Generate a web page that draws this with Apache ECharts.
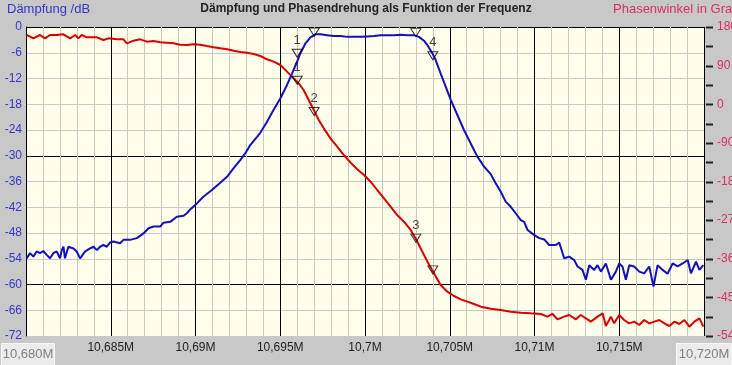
<!DOCTYPE html>
<html>
<head>
<meta charset="utf-8">
<script src="https://cdn.jsdelivr.net/npm/echarts@6/dist/echarts.min.js"></script>
<style>
html,body{margin:0;padding:0;background:#c8c8c8;}
#chart{width:732px;height:365px;}
</style>
</head>
<body>
<div id="chart"></div>
<script>
// Frequency offsets in kHz relative to 10,680 MHz
var xTickValues = [5, 10, 15, 20, 25, 30, 35];
var xTickLabels = ['10,685M', '10,69M', '10,695M', '10,7M', '10,705M', '10,71M', '10,715M'];
var xEndLabels = ['10,680M', '10,720M'];
// Phase axis ticks (every 45°) and labelled ticks (every 90°)
var phaseTicks = [180, 135, 90, 45, 0, -45, -90, -135, -180, -225, -270, -315, -360, -405, -450, -495, -540];
var phaseLabels = [180, 90, 0, -90, -180, -270, -360, -450, -540];

// Dämpfung (dB) trace
var blueFreq = [0.04,0.24,0.43,0.63,0.83,1.02,1.22,1.42,1.61,1.81,2.01,2.11,2.21,2.30,2.50,2.80,2.99,3.19,3.49,3.78,3.98,4.18,4.37,4.57,4.77,4.96,5.16,5.55,5.75,6.14,6.54,6.93,7.23,7.52,7.92,8.11,8.51,8.90,9.30,9.49,9.69,10.08,10.48,10.97,11.46,11.86,12.25,12.64,12.94,13.23,13.63,13.83,14.22,14.61,15.01,15.40,15.70,15.99,16.19,16.49,16.78,17.08,17.37,17.77,18.16,18.56,18.95,19.34,19.74,20.13,20.53,20.92,21.31,21.71,22.10,22.49,22.89,23.18,23.48,23.68,23.97,24.17,24.46,24.76,25.06,25.45,25.84,26.23,26.63,27.02,27.42,27.71,28.01,28.30,28.60,28.89,29.19,29.39,29.59,29.99,30.28,30.58,30.86,31.26,31.46,31.75,32.05,32.34,32.54,32.83,33.03,33.23,33.52,33.72,33.92,34.21,34.51,34.80,35.00,35.19,35.39,35.59,35.88,36.18,36.47,36.77,37.02,37.26,37.56,37.85,38.15,38.44,38.74,39.04,39.23,39.53,39.73,39.96];
var blueDb = [-53.9,-52.7,-53.5,-52.3,-52.7,-52.2,-53.1,-53.9,-52.7,-52.3,-53.9,-52.0,-51.2,-53.9,-51.2,-51.6,-52.3,-53.9,-52.3,-51.6,-51.2,-52.0,-51.2,-50.8,-51.2,-50.2,-50.0,-50.4,-49.6,-49.6,-49.2,-48.1,-46.9,-46.5,-46.5,-45.6,-45.4,-44.2,-44.0,-43.4,-42.5,-41.1,-39.5,-38.0,-36.3,-34.9,-32.9,-31.0,-29.4,-27.5,-25.6,-24.6,-22.1,-19.3,-16.6,-13.5,-10.8,-8.1,-6.1,-3.8,-2.4,-1.7,-1.7,-1.9,-2.1,-2.1,-2.3,-2.3,-2.3,-2.2,-2.1,-1.9,-1.9,-1.9,-1.8,-1.9,-1.9,-2.3,-3.2,-4.2,-6.1,-7.7,-10.8,-13.9,-17.0,-20.5,-24.0,-27.1,-30.2,-32.5,-34.3,-36.4,-38.4,-40.7,-41.9,-43.4,-45.0,-45.4,-47.3,-48.5,-49.2,-49.5,-50.8,-50.8,-50.2,-53.9,-53.5,-54.3,-55.8,-56.6,-58.9,-55.5,-56.6,-55.5,-57.0,-55.1,-58.9,-57.0,-55.1,-55.8,-58.9,-55.5,-55.8,-57.0,-57.4,-55.8,-60.5,-55.5,-56.6,-57.5,-55.1,-55.8,-55.1,-54.3,-57.4,-54.7,-56.6,-55.5];

// Phasenwinkel (Grad) trace
var redFreq = [0.04,0.43,0.83,1.12,1.42,1.81,2.21,2.60,2.90,3.09,3.29,3.58,4.18,4.57,4.86,5.36,5.75,5.95,6.34,6.74,7.13,7.52,7.92,8.31,8.71,9.10,9.49,9.89,10.28,10.67,11.07,11.46,11.86,12.25,12.64,13.04,13.43,13.83,14.22,14.61,15.01,15.40,15.79,16.09,16.38,16.68,16.98,17.27,17.57,17.96,18.36,18.75,19.15,19.54,19.94,20.33,20.72,21.12,21.51,21.90,22.30,22.69,22.98,23.28,23.68,24.07,24.46,24.86,25.25,25.65,26.04,26.43,26.83,27.42,28.01,28.60,29.19,29.78,30.37,30.76,31.06,31.36,31.75,32.05,32.44,32.73,33.03,33.33,33.72,34.02,34.21,34.51,34.70,35.00,35.29,35.59,35.88,36.18,36.47,36.77,37.07,37.36,37.66,37.95,38.25,38.54,38.84,39.14,39.43,39.73,39.96];
var redDeg = [161.4,153.6,161.4,153.6,161.4,161.4,162.9,153.6,161.4,153.6,161.4,155.9,155.9,149.7,153.6,151.3,151.3,141.9,148.2,151.3,145.8,147.4,144.3,143.5,141.9,138.8,138.1,139.6,138.8,135.7,132.6,130.3,128.0,124.9,121.7,120.2,117.1,112.4,104.7,99.2,91.5,76.0,60.4,48.7,33.2,9.9,-13.4,-36.7,-56.1,-79.4,-98.8,-118.3,-136.1,-151.6,-164.9,-180.4,-199.8,-219.2,-238.6,-258.1,-273.6,-293.0,-312.4,-335.7,-366.8,-394.0,-421.2,-436.7,-446.8,-454.6,-460.0,-465.4,-471.7,-476.3,-479.4,-483.3,-485.6,-487.2,-488.7,-494.9,-488.7,-501.2,-494.9,-491.1,-501.2,-491.1,-498.8,-506.6,-494.9,-487.2,-516.7,-494.9,-510.5,-491.1,-502.7,-510.5,-506.6,-514.4,-502.7,-510.5,-506.6,-502.7,-510.5,-516.7,-506.6,-512.0,-502.7,-518.3,-506.6,-498.8,-518.3];

// Markers
var markerFreq = [16, 17, 23, 24];
var blueMarkerDb = [-6.1, -1.2, -1.3, -6.7];
var blueMarkerLabels = ['1', '', '', '4'];
var redMarkerDeg = [56, -17, -312, -386];
var redMarkerLabels = ['1', '2', '3', ''];

function zip(a, b) { return a.map(function (v, i) { return [v, b[i]]; }); }
function markers(vals, labels) {
  return markerFreq.map(function (f, i) { return { value: [f, vals[i]], name: labels[i] }; });
}

var FONT = 'Liberation Sans';
var GRAY = '#c9c9c2';
var PHASE_COLOR = '#d8305f';
var chart = echarts.init(document.getElementById('chart'), null, { renderer: 'canvas' });

var baseGraphics = [
  { type: 'group', left: 1, top: 343, children: [
    { type: 'rect', shape: { x: 0, y: 0, width: 53, height: 22 },
      style: { fill: '#ebebeb', stroke: '#f8f8f8', lineWidth: 1 } },
    { type: 'text', x: 26.5, y: 11, style: { text: xEndLabels[0], fill: '#808080', font: '13px "Liberation Sans"', textAlign: 'center', textVerticalAlign: 'middle' } }
  ] },
  { type: 'group', left: 676, top: 343, children: [
    { type: 'rect', shape: { x: 0, y: 0, width: 55, height: 22 },
      style: { fill: '#ebebeb', stroke: '#f8f8f8', lineWidth: 1 } },
    { type: 'text', x: 27.5, y: 11, style: { text: xEndLabels[1], fill: '#808080', font: '13px "Liberation Sans"', textAlign: 'center', textVerticalAlign: 'middle' } }
  ] }
];

chart.setOption({
  animation: false,
  backgroundColor: '#c8c8c8',
  textStyle: { fontFamily: FONT },
  title: [
    { text: 'Dämpfung und Phasendrehung als Funktion der Frequenz', left: 'center', top: 3, padding: 0,
      textStyle: { fontFamily: FONT, fontSize: 12, fontWeight: 'bold', color: '#222' } },
    { text: 'Dämpfung /dB', left: 7, top: 3, padding: 0,
      textStyle: { fontFamily: FONT, fontSize: 13, fontWeight: 'normal', color: '#3636c8' } },
    { text: 'Phasenwinkel in Grad', left: 613, top: 3, padding: 0,
      textStyle: { fontFamily: FONT, fontSize: 13, fontWeight: 'normal', color: PHASE_COLOR } }
  ],
  grid: { left: 26, right: 28, top: 27, bottom: 29, show: true, backgroundColor: '#fffeea', borderWidth: 0,
    outerBoundsMode: 'none' },
  xAxis: {
    type: 'value', min: 0, max: 40, interval: 1,
    axisLine: { show: false, onZero: false }, axisTick: { show: false },
    splitLine: { show: true, lineStyle: { color: ['#000', GRAY, GRAY, GRAY, GRAY], width: 1 } },
    axisLabel: {
      margin: 6, fontSize: 12, color: '#222', fontFamily: FONT, hideOverlap: false,
      formatter: function (v) { var i = xTickValues.indexOf(v); return i >= 0 ? xTickLabels[i] : ''; }
    }
  },
  yAxis: [
    { type: 'value', min: -72, max: 0, interval: 6, position: 'left',
      axisLine: { show: true, onZero: false, lineStyle: { color: '#000', width: 1 } }, axisTick: { show: false },
      splitLine: { show: true, lineStyle: { color: [GRAY, GRAY, '#000', GRAY, GRAY], width: 1 } },
      axisLabel: { margin: 4, fontSize: 12, color: '#3636c8', fontFamily: FONT } },
    { type: 'value', min: -540, max: 180, interval: 90, position: 'right',
      axisLine: { show: false, onZero: false }, axisTick: { show: false },
      splitLine: { show: false }, axisLabel: { show: false } }
  ],
  series: [
    { type: 'line', yAxisIndex: 1, data: zip(redFreq, redDeg), showSymbol: false, symbol: 'none',
      lineStyle: { color: '#e00000', width: 2 }, z: 2 },
    { type: 'line', yAxisIndex: 0, data: zip(blueFreq, blueDb), showSymbol: false, symbol: 'none',
      lineStyle: { color: '#1010c8', width: 2 }, z: 3 },
    { type: 'scatter', yAxisIndex: 1, data: markers(redMarkerDeg, redMarkerLabels), symbol: 'triangle',
      symbolRotate: 180, symbolSize: [10, 8], z: 4,
      itemStyle: { color: 'rgba(0,0,0,0)', borderColor: '#000', borderWidth: 1 },
      label: { show: true, position: 'top', distance: 2, color: '#111', fontSize: 13, fontFamily: FONT,
        formatter: function (p) { return p.name; } } },
    { type: 'scatter', yAxisIndex: 0, data: markers(blueMarkerDb, blueMarkerLabels), symbol: 'triangle',
      symbolRotate: 180, symbolSize: [10, 8], z: 4,
      itemStyle: { color: 'rgba(0,0,0,0)', borderColor: '#000', borderWidth: 1 },
      label: { show: true, position: 'top', distance: 2, color: '#111', fontSize: 13, fontFamily: FONT,
        formatter: function (p) { return p.name; } } }
  ],
  graphic: baseGraphics
});

// Phase axis ticks & labels placed through the chart's own scales
var xRight = chart.convertToPixel({ xAxisIndex: 0 }, 40);
var axisGraphics = [];
phaseTicks.forEach(function (v) {
  var y = Math.round(chart.convertToPixel({ yAxisIndex: 1 }, v)) + 0.5;
  axisGraphics.push({ type: 'line', shape: { x1: xRight + 2, y1: y, x2: xRight + 9, y2: y },
    style: { stroke: '#222', lineWidth: 2 }, silent: true, z: 10 });
});
phaseLabels.forEach(function (v) {
  var y = chart.convertToPixel({ yAxisIndex: 1 }, v);
  axisGraphics.push({ type: 'text', x: xRight + 13, y: y,
    style: { text: String(v), fill: PHASE_COLOR, font: '12px "Liberation Sans"', textAlign: 'left', textVerticalAlign: 'middle' },
    silent: true, z: 10 });
});
chart.setOption({ graphic: baseGraphics.concat(axisGraphics) }, { replaceMerge: ['graphic'] });
</script>
</body>
</html>
